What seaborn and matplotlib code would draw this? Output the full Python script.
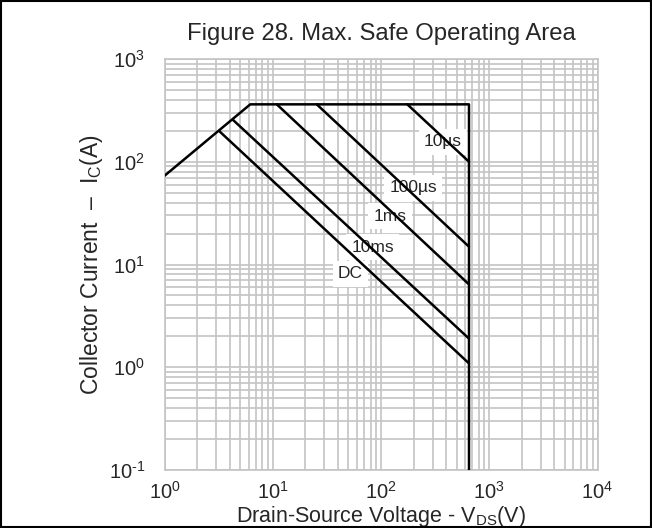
import matplotlib
matplotlib.use("Agg")
import matplotlib.pyplot as plt
import matplotlib.patches as mpatches
from matplotlib.ticker import LogLocator, FuncFormatter, NullFormatter
import seaborn as sns
import pandas as pd
import numpy as np

# ---- data ----
soa_v = [1, 6.2, 650, 650]          # outer SOA boundary, V
soa_i = [73, 362, 362, 0.1]         # outer SOA boundary, A

pulse_names   = ["10µs", "100µs", "1ms", "10ms", "DC"]
pulse_v_start = [175, 25.5, 10.9, 4.3, 3.2]
pulse_i_start = [362, 362, 362, 255, 199]
pulse_v_end   = [650, 650, 650, 650, 650]
pulse_i_end   = [100, 14.9, 6.4, 1.9, 1.09]

label_v = [374, 198, 121, 84, 52]
label_i = [156, 55.6, 29.6, 14.8, 8.1]

# ---- style ----
sns.set_style("white")
plt.rcParams["font.family"] = ["Liberation Sans", "DejaVu Sans"]
plt.rcParams["mathtext.fontset"] = "custom"
plt.rcParams["mathtext.rm"] = "Liberation Sans"
plt.rcParams["mathtext.it"] = "Liberation Sans:italic"
plt.rcParams["mathtext.default"] = "regular"
plt.rcParams["axes.unicode_minus"] = False

fig = plt.figure(figsize=(6.52, 5.28), dpi=100)
ax = fig.add_axes([164.5 / 652, 1 - 470 / 528, 433 / 652, 411 / 528])

df_soa = pd.DataFrame({"V": soa_v, "I": soa_i})
sns.lineplot(data=df_soa, x="V", y="I", sort=False, estimator=None,
             color="black", lw=1.8, ax=ax, zorder=4)

for name, v0, i0, v1, i1 in zip(pulse_names, pulse_v_start, pulse_i_start,
                                pulse_v_end, pulse_i_end):
    d = pd.DataFrame({"V": [v0, v1], "I": [i0, i1]})
    sns.lineplot(data=d, x="V", y="I", sort=False, estimator=None,
                 color="black", lw=1.8, ax=ax, zorder=4)

for name, lv, li in zip(pulse_names, label_v, label_i):
    ax.text(lv, li, name, ha="center", va="center", fontsize=12.5, zorder=3,
            bbox=dict(boxstyle="square,pad=0.3", fc="white", ec="none"))

ax.set_xscale("log")
ax.set_yscale("log")
ax.set_xlim(1, 1e4)
ax.set_ylim(0.1, 1e3)


def pow10(val, pos):
    e = int(round(np.log10(val)))
    es = str(e).replace("-", "\u2010")
    return r"$10^{%s}$" % es


for axis in (ax.xaxis, ax.yaxis):
    axis.set_major_locator(LogLocator(base=10, numticks=10))
    axis.set_minor_locator(LogLocator(base=10, subs=range(2, 10), numticks=100))
    axis.set_major_formatter(FuncFormatter(pow10))
    axis.set_minor_formatter(NullFormatter())

ax.set_axisbelow(True)
ax.grid(True, which="both", color="#c4c4c4", lw=1.2)
for s in ax.spines.values():
    s.set_color("#c4c4c4")
    s.set_linewidth(1.2)
ax.tick_params(which="both", length=0)
ax.tick_params(axis="x", labelsize=14.5, pad=8)
ax.tick_params(axis="y", labelsize=14.5, pad=14)

ax.set_xlabel(r"Drain-Source Voltage - V$_{\mathregular{DS}}$(V)", fontsize=15.5)
ax.set_ylabel(r"Collector Current  –  I$_{\mathregular{C}}$(A)", fontsize=16.5)
ax.xaxis.set_label_coords(0.5, -0.082)
ax.yaxis.set_label_coords(-0.138, 0.5)
ax.set_title("Figure 28. Max. Safe Operating Area", fontsize=17.2, pad=14)
if ax.get_legend():
    ax.get_legend().remove()

fig.patches.append(mpatches.Rectangle((0.0015, 0.0015), 0.997, 0.997,
                                      transform=fig.transFigure, fill=False,
                                      ec="black", lw=1.5))

fig.savefig("out.png", dpi=100)
